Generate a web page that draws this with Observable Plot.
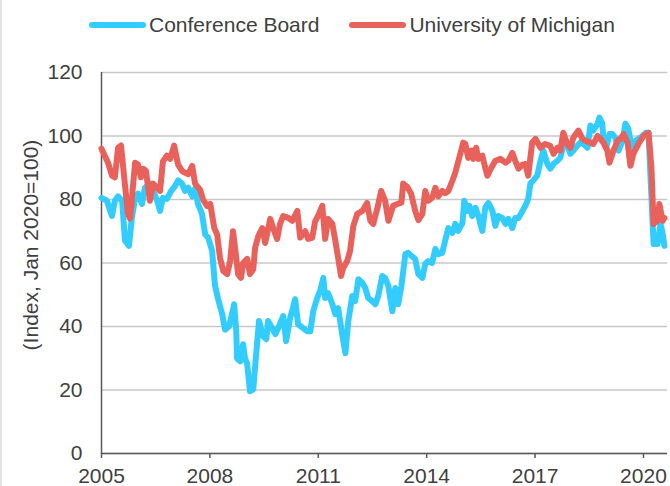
<!DOCTYPE html>
<html>
<head>
<meta charset="utf-8">
<script src="https://cdn.jsdelivr.net/npm/d3@7"></script>
<script src="https://cdn.jsdelivr.net/npm/@observablehq/plot@0.6"></script>
<style>
  html, body { margin: 0; padding: 0; background: #fff; }
  body { width: 670px; height: 486px; position: relative; overflow: hidden;
         font-family: "Liberation Sans", Arial, sans-serif; color: #404040; }
  .edge { position: absolute; left: 0; top: 0; width: 2px; height: 486px; background: #e2e5e5; }
  .legend { height: 50px; display: flex; align-items: center; padding-left: 89px; font-size: 21px; }
  .legend .item { display: flex; align-items: center; }
  .legend .sw { width: 57px; height: 6px; border-radius: 3px; margin-right: 3px; }
  .legend .item + .item { margin-left: 30px; }
  #chart svg { display: block; }
</style>
</head>
<body>
<div class="edge"></div>
<div class="legend" id="legend"></div>
<div id="chart"></div>
<script>
const seriesNames = ["Conference Board", "University of Michigan"];
const seriesColors = ["#33CCFF", "#E8625B"];
const yTicks = [0, 20, 40, 60, 80, 100, 120];
const xTicks = [2005, 2008, 2011, 2014, 2017, 2020];
const yLabel = ["(Index, Jan 2020=100)"];

const cbYears = [2005.00,2005.15,2005.29,2005.37,2005.46,2005.57,2005.65,2005.76,2005.84,2005.93,
2006.01,2006.12,2006.20,2006.34,2006.43,2006.54,2006.62,2006.70,2006.81,2006.93,
2007.04,2007.12,2007.23,2007.31,2007.40,2007.51,2007.59,2007.67,2007.78,2007.87,2007.95,
2008.06,2008.14,2008.23,2008.34,2008.42,2008.53,2008.61,2008.67,2008.73,2008.75,2008.84,2008.92,2008.97,
2009.03,2009.11,2009.20,2009.28,2009.36,2009.47,2009.56,2009.61,2009.72,2009.81,2009.89,
2010.03,2010.11,2010.22,2010.36,2010.44,2010.58,2010.69,2010.78,2010.86,2010.97,
2011.05,2011.14,2011.19,2011.27,2011.39,2011.47,2011.55,2011.66,2011.75,2011.83,2011.94,
2012.02,2012.11,2012.22,2012.30,2012.38,2012.49,2012.58,2012.66,2012.77,2012.85,2012.94,
2013.05,2013.13,2013.21,2013.30,2013.41,2013.49,2013.60,2013.68,2013.77,2013.88,2013.96,
2014.04,2014.15,2014.24,2014.32,2014.43,2014.51,2014.60,2014.71,2014.79,2014.87,2014.99,
2015.04,2015.12,2015.18,2015.26,2015.35,2015.43,2015.54,2015.62,2015.71,2015.82,2015.90,2015.98,
2016.09,2016.18,2016.26,2016.37,2016.45,2016.54,2016.65,2016.73,2016.81,2016.87,2016.95,
2017.06,2017.15,2017.23,2017.34,2017.42,2017.51,2017.62,2017.70,2017.78,2017.89,2017.98,
2018.06,2018.17,2018.25,2018.34,2018.45,2018.53,2018.61,2018.73,2018.78,2018.86,2018.89,2018.97,
2019.06,2019.14,2019.22,2019.31,2019.42,2019.50,2019.58,2019.69,2019.78,2019.92,
2020.06,2020.14,2020.28,2020.39,2020.47,2020.52,2020.58];
const cbValues = [80.5,79.6,74.8,79.6,81,79.6,67,65.4,74.2,80.5,
81.8,78.6,83.7,85,82.7,79.6,76.4,80.5,80.2,82.7,
84.3,86,85,82.7,83.7,81,83.4,78.6,75.5,69,68,
64,53,48.5,43.9,39,40,43.9,47,38.5,30,29,34.4,30,
28.4,19.6,20.2,31.3,41.7,37,36,41.7,39.5,37.6,39.5,
43.3,35.4,42.6,48.6,40.7,39.5,38.5,38.5,44.8,49,
51.2,55.3,49,50.5,47,43.9,45.8,37.6,31.6,41.7,49.6,
48,54.9,53.7,52.1,49,48,47,49.6,55.9,55.3,52.7,
44.8,52.1,47,52.7,62.8,63.2,62,61.3,56.5,55.3,59.7,
60.6,60,64.4,62.8,63.2,67,71,69.5,72.3,70.1,72.6,
79.6,76.4,78,74.8,77.4,74.8,70.1,77.4,78.9,76.4,71.7,74.8,
74.2,72.3,73.9,71,74.2,74.2,76.4,78,80.2,85,86,
87.5,92.2,95.4,91.2,89.7,91.2,92.2,93.2,97,97,94.4,
95.4,97,97.9,97.5,96.3,103.3,101.7,103.9,105.8,103.9,99.1,96.3,
100.6,100.6,99.5,95.4,98.5,103.9,102.3,95.4,98.5,99.5,
101,101,66,66,72.3,70,65.4];

const umYears = [2005.00,2005.18,2005.29,2005.37,2005.46,2005.54,2005.73,2005.79,2005.93,
2006.01,2006.09,2006.15,2006.23,2006.34,2006.43,2006.54,2006.62,2006.70,2006.81,2006.90,
2007.01,2007.12,2007.23,2007.31,2007.40,2007.51,2007.59,2007.73,2007.81,2007.92,
2008.01,2008.12,2008.20,2008.28,2008.37,2008.48,2008.56,2008.64,2008.73,2008.78,2008.86,2008.92,
2009.03,2009.11,2009.20,2009.25,2009.34,2009.45,2009.53,2009.67,2009.75,2009.86,2009.94,
2010.03,2010.17,2010.28,2010.42,2010.50,2010.64,2010.72,2010.83,2010.91,
2011.00,2011.11,2011.19,2011.27,2011.39,2011.47,2011.55,2011.63,2011.69,2011.80,2011.88,2011.97,
2012.08,2012.22,2012.35,2012.44,2012.52,2012.63,2012.74,2012.85,2012.94,
2013.07,2013.19,2013.30,2013.35,2013.46,2013.57,2013.68,2013.77,2013.88,2013.96,
2014.04,2014.15,2014.24,2014.32,2014.43,2014.51,2014.60,2014.71,2014.79,2014.90,
2015.01,2015.07,2015.15,2015.24,2015.29,2015.37,2015.43,2015.54,2015.62,2015.68,2015.79,2015.90,
2016.04,2016.18,2016.26,2016.37,2016.45,2016.54,2016.65,2016.73,2016.81,2016.92,
2017.01,2017.15,2017.28,2017.42,2017.51,2017.62,2017.70,2017.78,2017.89,2017.98,
2018.06,2018.20,2018.31,2018.39,2018.53,2018.61,2018.73,2018.81,2018.89,
2019.00,2019.06,2019.17,2019.28,2019.36,2019.45,2019.56,2019.64,2019.72,2019.86,
2020.00,2020.14,2020.22,2020.28,2020.39,2020.44,2020.53,2020.58];
const umValues = [96,91.6,87.5,87,96.3,97,75.5,74,91.6,
91,87,89.7,89,79.6,85,83.7,82.7,92,93.8,92.8,
97,91,89,88.4,88,90.6,85,83,80,78,
78.6,71,69,61.6,57.5,56.5,60.6,70,61.6,56.5,55.3,60,
61.3,56.5,58,64.7,68.5,71,66.3,73.9,71,67.6,72.3,
74.8,74.2,73.3,76.4,68,70,67.6,67.9,73,
75,78,67.6,73.9,72.3,67,61.6,55.9,58.4,60.6,63.8,71.7,
75.5,76.4,78.9,73.3,72.3,77,82.7,79.6,73.3,
78,78.6,79,85,84,81.8,76.5,73.5,75.5,82.7,
79.6,80.5,83.7,81,82.7,82,82.7,85.9,88.4,93.1,
97.9,97.5,93.1,95.4,92.8,96.3,92.8,93.8,90,87.5,90,92.2,
92.8,91.6,92.2,94.7,92.2,89.7,91,91.2,87.5,97.9,
99.1,96.3,97.5,96.9,94.4,96.3,95.4,101,97.5,96.3,
99.5,101.7,99.1,98.5,97.9,97.5,100,99.1,97.9,
95.4,91.6,95.4,98.5,99.1,100.6,97.9,90.6,94.4,97.5,
100,101,90,72.3,73.3,78.6,73.3,74.2];

const cb = cbYears.map((t, i) => ({t, v: cbValues[i]}));
const um = umYears.map((t, i) => ({t, v: umValues[i]}));

// legend
const legend = document.getElementById("legend");
seriesNames.forEach((name, i) => {
  const item = document.createElement("div");
  item.className = "item";
  const sw = document.createElement("span");
  sw.className = "sw";
  sw.style.background = seriesColors[i];
  const lab = document.createElement("span");
  lab.textContent = name;
  item.appendChild(sw); item.appendChild(lab);
  legend.appendChild(item);
});

const axisColor = "#595959";
const chart = Plot.plot({
  width: 670,
  height: 436,
  marginLeft: 101,
  marginRight: 3,
  marginTop: 22,
  marginBottom: 33,
  style: {fontFamily: "'Liberation Sans', Arial, sans-serif", fontSize: "21px", color: "#404040", background: "white", overflow: "visible"},
  x: {domain: [2005, 2020.665]},
  y: {domain: [0, 120]},
  marks: [
    Plot.gridY(yTicks, {stroke: "#c8c8c8", strokeOpacity: 1, strokeWidth: 1.5}),
    Plot.axisY(yTicks, {tickSize: 0, tickPadding: 19, label: null, fontSize: 21, fill: "#404040"}),
    Plot.axisX(xTicks, {tickSize: 5, tickPadding: 10, label: null, fontSize: 21, fill: "#404040", stroke: axisColor, strokeWidth: 1.5, tickFormat: d => String(d)}),
    Plot.ruleY([0], {stroke: axisColor, strokeWidth: 1.5}),
    Plot.ruleX([2005], {stroke: axisColor, strokeWidth: 1.5}),
    Plot.line(cb, {x: "t", y: "v", stroke: seriesColors[0], strokeWidth: 6, strokeLinejoin: "round", strokeLinecap: "round"}),
    Plot.line(um, {x: "t", y: "v", stroke: seriesColors[1], strokeWidth: 6, strokeLinejoin: "round", strokeLinecap: "round"}),
    Plot.text(yLabel, {frameAnchor: "left", textAnchor: "middle", rotate: -90, dx: -70, dy: -18, fontSize: 21, fill: "#404040"})
  ]
});
document.getElementById("chart").appendChild(chart);
</script>
</body>
</html>
